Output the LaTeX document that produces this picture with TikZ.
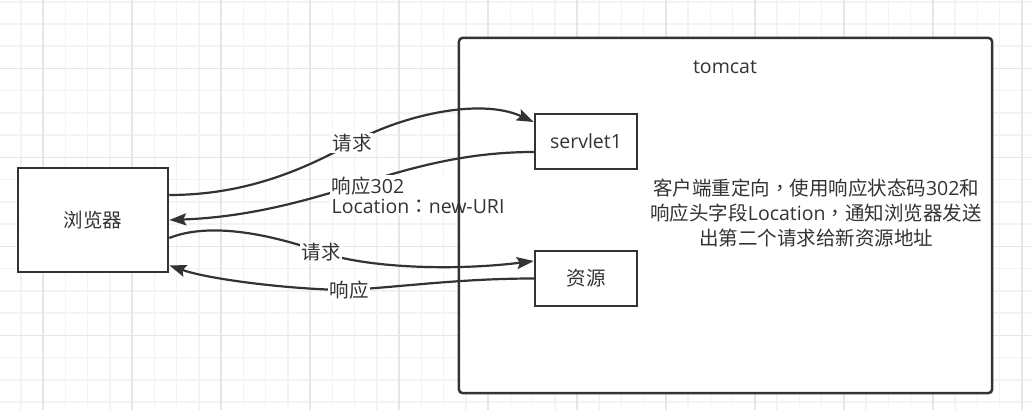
\documentclass[tikz,border=0pt]{standalone}
\usepackage{fontspec}
\setmainfont{Open Sans}
\newfontfamily\cjk{Noto Sans CJK SC}
\newfontfamily\cjkp{Noto Sans CJK TC}
\usetikzlibrary{arrows.meta}
\definecolor{ink}{HTML}{333333}
\definecolor{gridminor}{HTML}{F3F3F3}
\definecolor{gridmajor}{HTML}{E6E6E6}
\begin{document}
\begin{tikzpicture}[x=1pt,y=-1pt,
  every node/.style={font=\fontsize{19.5}{25}\selectfont, text=ink},
  box/.style={draw=ink, line width=2.5pt, fill=white, inner sep=0pt},
  conn/.style={draw=ink, line width=2.2pt, -{Stealth[length=17pt,width=12pt,inset=3pt]}},
  lbl/.style={fill=white, inner sep=1.5pt},
  gminor/.style={draw=gridminor, line width=1.5pt},
  gmajor/.style={draw=gridmajor, line width=1.5pt},
]
\useasboundingbox[fill=white] (0,0) rectangle (1031,410);
% grid
\foreach \k in {0,...,46} \draw[gminor] ({-1.24+22.24*\k},0) -- ++(0,410);
\foreach \k in {0,...,18} \draw[gminor] (0,{1.76+22.24*\k}) -- ++(1031,0);
\foreach \k in {0,...,11} \draw[gmajor] ({43.24+88.96*\k},0) -- ++(0,410);
\foreach \k in {0,...,3} \draw[gmajor] (0,{68.48+88.96*\k}) -- ++(1031,0);
% tomcat container (fill)
\node[fill=white, minimum width=533pt, minimum height=355pt, inner sep=0pt, rounded corners=4pt] (tomcat) at (725.5,215.5) {};
% boxes
\node[box, minimum width=150pt, minimum height=104pt] (browser) at (93,220) {\cjk 浏览器};
\node[box, minimum width=102pt, minimum height=55pt] (servlet) at (586,141.5) {servlet1};
\node[box, minimum width=102pt, minimum height=55pt] (res) at (586,278.5) {\cjk 资源};
% label anchor points
\coordinate (q1) at (352,143);
\coordinate (q2) at (366,182);
\coordinate (q3) at (321,252);
\coordinate (q4) at (349,290);
% connectors
\draw[conn] ([yshift=25pt]browser.east) .. controls +(80,0) and +(-44,24) .. (q1)
  .. controls +(48,-27) and +(-54,-25) .. ([yshift=19.5pt]servlet.west);
\draw[conn] ([yshift=-10.5pt]servlet.west) .. controls +(-60,0) and +(57,-18) .. (q2)
  .. controls +(-60,19) and +(80,-3) .. (browser.east);
\draw[conn] ([yshift=-18pt]browser.east) .. controls +(45,-18) and +(-40,-14) .. (q3)
  .. controls +(45,16) and +(-80,10) .. ([yshift=17.5pt]res.west);
\draw[conn] (res.west) .. controls +(-70,0) and +(60,-4) .. (q4)
  .. controls +(-50,0) and +(42,15) .. ([yshift=8pt]browser.south east);
% labels
\node[lbl] (l1) at (q1) {\cjk 请求};
\node[lbl, anchor=west, align=left, font=\fontsize{19.5}{20}\selectfont] (l2) at (330,195) {{\cjk 响应}302\\Location{\cjkp ：}new-URI};
\node[lbl] (l3) at (q3) {\cjk 请求};
\node[lbl] (l4) at (q4) {\cjk 响应};
% tomcat border on top
\draw[ink, line width=2.5pt, rounded corners=4pt] (tomcat.north west) rectangle (tomcat.south east);
\node (title) at (725,67) {tomcat};
\node[align=center] (desc) at (816,213) {{\cjk 客户端重定向}{\cjkp ，}{\cjk 使用响应状态码}302{\cjk 和}\\{\cjk 响应头字段}Location{\cjkp ，}{\cjk 通知浏览器发送}\\{\cjk 出第二个请求给新资源地址}};
\end{tikzpicture}
\end{document}
